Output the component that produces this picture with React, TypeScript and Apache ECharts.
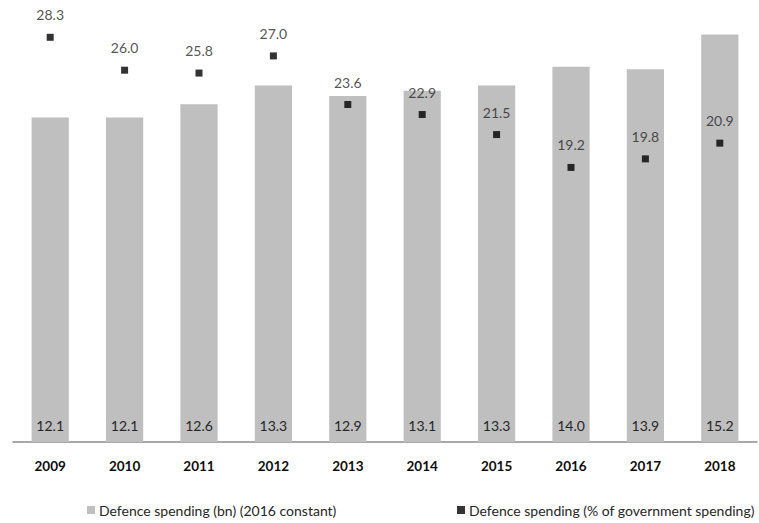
import React, { useEffect, useRef } from "react";
import * as echarts from "echarts";

const years = ["2009", "2010", "2011", "2012", "2013", "2014", "2015", "2016", "2017", "2018"];
const spendingBn = [12.1, 12.1, 12.6, 13.3, 12.9, 13.1, 13.3, 14.0, 13.9, 15.2];
const spendingPct = [28.3, 26.0, 25.8, 27.0, 23.6, 22.9, 21.5, 19.2, 19.8, 20.9];

const barName = "Defence spending (bn) (2016 constant)";
const pctName = "Defence spending (% of government spending)";

const FONT = "Lato, 'Open Sans', sans-serif";
const TEXT = "#262626";

export default function App() {
  const ref = useRef<HTMLDivElement>(null);

  useEffect(() => {
    document.body.style.margin = "0";
    if (!ref.current) return;
    const chart = echarts.init(ref.current, undefined, { renderer: "svg" });
    chart.setOption({
      animation: false,
      backgroundColor: "#ffffff",
      textStyle: { fontFamily: FONT },
      grid: { left: 13, right: 2, top: 13, bottom: 81, containLabel: false },
      legend: [
        {
          data: [barName],
          left: 82,
          top: 498,
          itemWidth: 8,
          itemHeight: 8,
          itemGap: 4,
          icon: "rect",
          textStyle: { fontFamily: FONT, fontSize: 14, color: TEXT, padding: [0, 0, 0, -1] },
        },
        {
          data: [pctName],
          left: 452,
          top: 498,
          itemWidth: 8,
          itemHeight: 8,
          icon: "rect",
          textStyle: { fontFamily: FONT, fontSize: 14, color: TEXT, padding: [0, 0, 0, -1] },
        },
      ],
      xAxis: {
        type: "category",
        data: years,
        boundaryGap: true,
        axisLine: { lineStyle: { color: "#8c8c8c", width: 1.5 } },
        axisTick: { show: false },
        axisLabel: {
          margin: 17,
          fontFamily: FONT,
          fontSize: 13.5,
          fontWeight: "bold",
          color: "#0d0d0d",
        },
      },
      yAxis: [
        { type: "value", min: 0, max: 16, show: false, splitLine: { show: false } },
        { type: "value", min: 0, max: 30, show: false, splitLine: { show: false } },
      ],
      series: [
        {
          name: barName,
          type: "bar",
          data: spendingBn,
          yAxisIndex: 0,
          barWidth: "50%",
          itemStyle: { color: "#bfbfbf" },
          label: {
            show: true,
            position: "insideBottom",
            distance: 10,
            formatter: (p: any) => Number(p.value).toFixed(1),
            fontFamily: FONT,
            fontSize: 14,
            color: TEXT,
          },
        },
        {
          name: pctName,
          type: "scatter",
          data: spendingPct,
          yAxisIndex: 1,
          symbol: "rect",
          symbolSize: 7,
          itemStyle: { color: "#000000" },
          label: {
            show: true,
            position: "top",
            distance: 12,
            formatter: (p: any) => Number(p.value).toFixed(1),
            fontFamily: FONT,
            fontSize: 14,
            color: TEXT,
          },
        },
      ],
    });
    return () => chart.dispose();
  }, []);

  return <div ref={ref} style={{ width: 759, height: 523 }} />;
}
